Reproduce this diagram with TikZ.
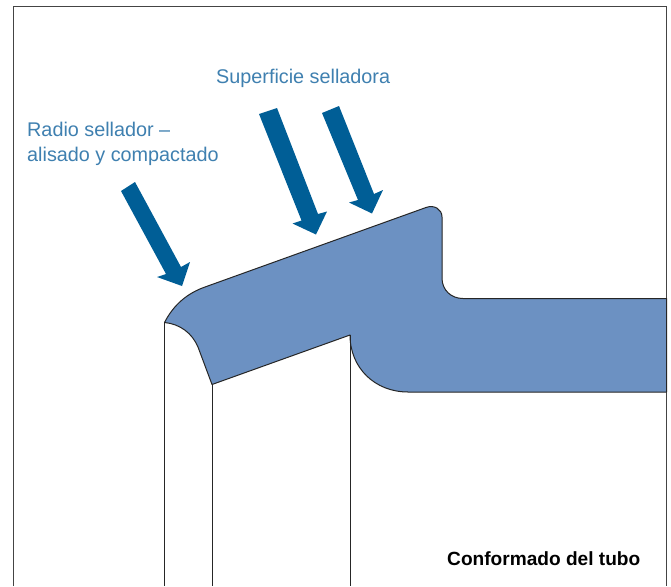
\documentclass[tikz,border=0pt]{standalone}
\usepackage{fontspec}
\setmainfont{Liberation Sans}
\definecolor{steel}{HTML}{6C91C2}
\definecolor{arrowblue}{HTML}{005E96}
\definecolor{labelblue}{HTML}{3F80B0}
\definecolor{framegray}{HTML}{444444}
\tikzset{
  outline/.style={draw=black!85,line width=1pt,line join=round},
  pointer/.style={fill=arrowblue,draw=none},
  bluelabel/.style={text=labelblue,font=\fontsize{19.8}{25}\selectfont,anchor=west,align=left,inner sep=0pt},
  blacklabel/.style={text=black,font=\fontsize{19.1}{22}\selectfont\bfseries,anchor=east,inner sep=0pt}
}
\begin{document}
\begin{tikzpicture}[x=1pt,y=-1pt]
\useasboundingbox (0,0) rectangle (671,586);
\fill[white] (0,0) rectangle (671,586);
% frame
\draw[framegray,line width=1pt] (13.5,586) -- (13.5,6.5) -- (666.5,6.5) -- (666.5,586);
% tube section
\draw[outline,fill=steel]
  (164.5,322.5) .. controls (174,304) and (188,293) .. (205,287)
  -- (426,207.5) .. controls (434,204.5) and (442,209) .. (442,217)
  -- (442,278) .. controls (442,290) and (451,298.5) .. (463,298.5)
  -- (666.5,298.5) -- (666.5,392) -- (408,392)
  .. controls (375,392) and (350,368) .. (350,335)
  -- (212,384.5) -- (198,347)
  .. controls (192,333) and (180,324) .. (164.5,322.5) -- cycle;
% walls
\draw[outline] (164.5,322.5) -- (164.5,586);
\draw[outline] (212.5,384.5) -- (212.5,586);
\draw[outline] (350.5,335) -- (350.5,586);
% arrows
\fill[pointer] (121,191) -- (135,182) -- (181,267) -- (190,262) -- (182,286) -- (157,277) -- (166,274) -- cycle;
\fill[pointer] (259,114) -- (277,108) -- (318,214) -- (327,211.5) -- (316,234.5) -- (292.5,223.5) -- (301.5,220.5) -- cycle;
\fill[pointer] (322,113) -- (339,106) -- (374,194) -- (383,190) -- (372,213.5) -- (349,202.5) -- (358,200) -- cycle;
% labels
\node[bluelabel] (sup) at (216,78.5) {Superficie selladora};
\node[bluelabel] (rad) at (27,144) {Radio sellador –\\alisado y compactado};
\node[blacklabel] (con) at (640.5,559) {Conformado del tubo};
\end{tikzpicture}
\end{document}
